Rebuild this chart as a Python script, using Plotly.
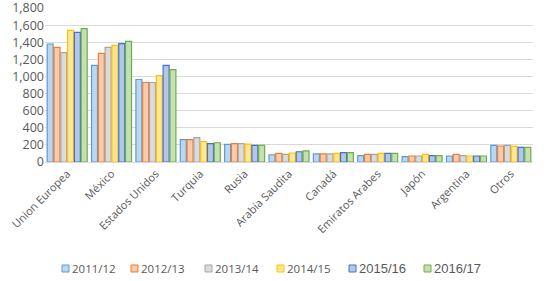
import plotly.graph_objects as go

categories = ["Union Europea", "México", "Estados Unidos", "Turquia", "Rusia",
              "Arabia Saudita", "Canadá", "Emiratos Arabes", "Japón", "Argentina", "Otros"]
series_names = ["2011/12", "2012/13", "2013/14", "2014/15", "2015/16", "2016/17"]
v_2011 = [1380, 1130, 965, 262, 205, 85, 95, 75, 62, 70, 195]
v_2012 = [1340, 1270, 930, 262, 215, 100, 95, 90, 70, 90, 187]
v_2013 = [1280, 1340, 930, 285, 215, 90, 95, 90, 70, 74, 195]
v_2014 = [1540, 1365, 1010, 240, 210, 105, 100, 100, 90, 70, 183]
v_2015 = [1515, 1385, 1130, 215, 195, 120, 110, 100, 74, 70, 170]
v_2016 = [1560, 1410, 1080, 225, 195, 130, 110, 100, 74, 70, 170]
values = [v_2011, v_2012, v_2013, v_2014, v_2015, v_2016]

fills = ["#BDD7EE", "#F8CBAD", "#DBDBDB", "#FFE699", "#B4C7E7", "#C5E0B4"]
borders = ["#5B9BD5", "#ED7D31", "#A5A5A5", "#FFC000", "#4472C4", "#70AD47"]

# legend layout (pixels): entry start x, font size
legend_x_px = [62, 131, 205, 277, 349, 424]
legend_font_sizes = [11.5, 11.5, 11.5, 11.5, 13, 13]
legend_y_px = 268

W, H = 552, 281
ML, MR, MT, MB = 45, 19, 8, 119
PW, PH = W - ML - MR, H - MT - MB


def px_x(px):
    return (px - ML) / PW


def px_y(py):
    return (H - MB - py) / PH


fig = go.Figure()
for name, vals, f, b in zip(series_names, values, fills, borders):
    fig.add_trace(go.Bar(
        x=categories, y=vals, name=name,
        marker=dict(color=f, line=dict(color=b, width=1.2)),
    ))

# custom legend
for name, f, b, lx, fs in zip(series_names, fills, borders, legend_x_px, legend_font_sizes):
    fig.add_shape(type="rect", xref="paper", yref="paper",
                  x0=px_x(lx), x1=px_x(lx + 7), y0=px_y(legend_y_px + 4), y1=px_y(legend_y_px - 3),
                  fillcolor=f, line=dict(color=b, width=1))
    fam = "Open Sans, sans-serif" if fs < 12 else "Liberation Sans, Arial, sans-serif"
    fig.add_annotation(x=px_x(lx + 8), y=px_y(legend_y_px + 0.5), xref="paper", yref="paper",
                       text=name, showarrow=False, xanchor="left", yanchor="middle",
                       font=dict(size=fs, color="#595959", family=fam))

fig.update_layout(
    width=W, height=H,
    margin=dict(l=ML, r=MR, t=MT, b=MB, autoexpand=False),
    paper_bgcolor="white", plot_bgcolor="white",
    barmode="group", bargap=0.08, bargroupgap=0.12,
    font=dict(family="Open Sans, Liberation Sans, sans-serif", size=11, color="#595959"),
    showlegend=False,
    xaxis=dict(tickangle=-45, showgrid=False, showline=True, linecolor="#D9D9D9",
               tickfont=dict(size=11, color="#595959"), ticks="", automargin=False),
    yaxis=dict(range=[0, 1801], dtick=200, tickformat=",", showgrid=True,
               gridcolor="#D9D9D9", zeroline=False, ticks="", automargin=False,
               ticklabeloverflow="allow",
               tickfont=dict(size=12.5, color="#595959")),
)

fig.write_html("out.html", config={"displayModeBar": False},
               post_script="document.body.style.margin='0';")
